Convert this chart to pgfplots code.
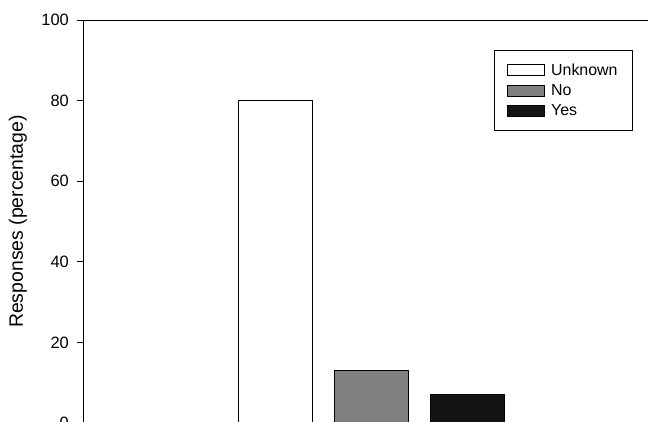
\documentclass[border=0pt]{standalone}
\usepackage{pgfplots}
\pgfplotsset{compat=1.18}
\usepackage{fontspec}
\setmainfont{Liberation Sans}
\definecolor{nogray}{HTML}{808080}
\definecolor{yesblack}{HTML}{141414}
\begin{document}
\begin{tikzpicture}
\begin{axis}[
  at={(0,0)}, anchor=south west,
  scale only axis,
  width=567bp, height=403bp,
  xmin=-1, xmax=4.906,
  ymin=0, ymax=100,
  ytick={0,20,40,60,80,100},
  xtick=\empty,
  ytick pos=left,
  tick align=outside,
  major tick length=6bp,
  axis line style={line width=0.9bp},
  every tick/.style={line width=0.9bp, black},
  /pgf/number format/assume math mode=true,
  tick label style={font=\fontsize{16.5}{19}\selectfont},
  yticklabel style={inner sep=0pt, xshift=-8bp},
  ylabel={Responses (percentage)},
  ylabel style={font=\fontsize{19.5}{23}\selectfont, at={(axis description cs:-0.115,0.5)}, anchor=center, rotate=0},
  bar width=0.77,
  legend cell align=left,
  legend style={at={(axis description cs:0.970,0.9256)}, anchor=north east,
    draw=black, line width=0.8bp, font=\fontsize{16}{18}\selectfont,
    row sep=3.5bp, inner xsep=13bp, inner ysep=11.5bp,
    /tikz/every odd column/.append style={column sep=4bp}},
  legend image code/.code={\draw[#1, line width=0.8bp] (0bp,-5.5bp) rectangle (37bp,5.5bp);},
]
\addplot[ybar, bar shift=0pt, fill=white, draw=black, line width=0.8bp] coordinates {(1,80)};
\addlegendentry{Unknown}
\addplot[ybar, bar shift=0pt, fill=nogray, draw=black, line width=0.8bp] coordinates {(2,13)};
\addlegendentry{No}
\addplot[ybar, bar shift=0pt, fill=yesblack, draw=black, line width=0.8bp] coordinates {(3,7)};
\addlegendentry{Yes}
\end{axis}
\pgfresetboundingbox
\useasboundingbox (-83bp,1bp) rectangle (565bp,423bp);
\end{tikzpicture}
\end{document}
